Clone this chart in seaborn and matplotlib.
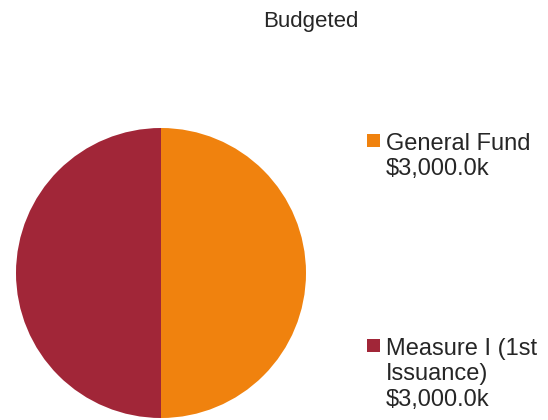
import matplotlib
matplotlib.use("Agg")
import matplotlib.pyplot as plt
import matplotlib.patches as mpatches
import seaborn as sns

# data
labels = ["General Fund", "Measure I (1st\nIssuance)"]
amounts = [3000.0, 3000.0]
colors = ["#F0820E", "#A12638"]
title = "Budgeted"

sns.set_style("white")
plt.rcParams['font.family'] = ['Liberation Sans', 'DejaVu Sans']

fig = plt.figure(figsize=(5.48, 4.2), dpi=100)
ax = fig.add_axes([16 / 548, 2 / 420, 290 / 548, 290 / 420])
ax.pie(amounts, colors=colors, startangle=90, counterclock=False, radius=1,
       wedgeprops=dict(linewidth=0))
ax.set_xlim(-1, 1)
ax.set_ylim(-1, 1)
ax.set_aspect('equal')
ax.axis('off')

fig.text(311 / 548, 1 - 21 / 420, title, ha='center', va='center', fontsize=16)

# legend entries placed by hand (they sit far apart)
entry_tops = [134, 339]
for lab, val, col, top in zip(labels, amounts, colors, entry_tops):
    sq = mpatches.Rectangle((367 / 548, 1 - (top + 13) / 420), 13 / 548, 13 / 420,
                            transform=fig.transFigure, color=col, lw=0)
    fig.add_artist(sq)
    fig.text(386 / 548, 1 - (top - 1) / 420, f"{lab}\n${val:,.1f}k",
             ha='left', va='top', fontsize=17, linespacing=1.2)

fig.savefig("out.png", dpi=100)
